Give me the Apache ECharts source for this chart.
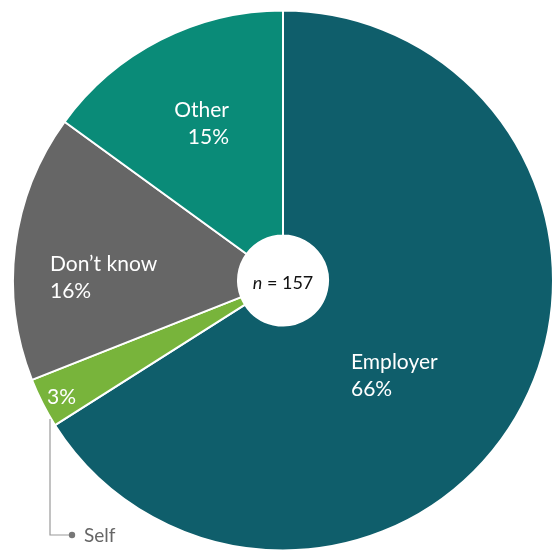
<!DOCTYPE html>
<html>
<head>
<meta charset="utf-8">
<script src="https://cdn.jsdelivr.net/npm/echarts@6/dist/echarts.min.js"></script>
<style>
  html, body { margin: 0; padding: 0; background: #fff; }
  #chart { width: 552px; height: 553px; }
</style>
</head>
<body>
<div id="chart"></div>
<script>
// Who pays: share of respondents by source
const categories = ['Employer', 'Self', 'Don\u2019t know', 'Other'];
const shares = [66, 3, 16, 15];
const colors = ['#0f5e6b', '#78b43b', '#666666', '#0a8b78'];
const sampleSize = 157;

// label anchor per slice: [x, y, align]
const labelSpots = [
  [351, 376, 'left'],
  [47, 397, 'left'],
  [50, 278, 'left'],
  [229, 124, 'right']
];

const FONT = 'Lato, "Open Sans", sans-serif';

const chart = echarts.init(document.getElementById('chart'), null, { renderer: 'canvas' });

chart.setOption({
  animation: false,
  backgroundColor: '#ffffff',
  series: [{
    type: 'pie',
    center: [283, 280.5],
    radius: [45, 270],
    startAngle: 90,
    clockwise: true,
    silent: true,
    itemStyle: { borderColor: '#ffffff', borderWidth: 2 },
    label: {
      show: true,
      position: 'inside',
      color: '#ffffff',
      fontFamily: FONT,
      fontSize: 21,
      lineHeight: 27,
      formatter: p => p.dataIndex === 1 ? p.value + '%' : p.name + '\n' + p.value + '%'
    },
    labelLine: { show: false },
    labelLayout: params => {
      const s = labelSpots[params.dataIndex];
      return { x: s[0], y: s[1], align: s[2], verticalAlign: 'middle' };
    },
    data: categories.map((c, i) => ({
      name: c,
      value: shares[i],
      itemStyle: { color: colors[i] }
    }))
  }],
  graphic: [
    {
      type: 'text',
      style: {
        x: 283, y: 283,
        text: '{i|n} = ' + sampleSize,
        align: 'center',
        verticalAlign: 'middle',
        fill: '#111',
        font: '18px ' + FONT,
        rich: { i: { fontStyle: 'italic', fontSize: 18, fontFamily: FONT, fill: '#111' } }
      },
      z: 100
    },
    {
      type: 'polyline',
      shape: { points: [[50, 419], [50, 535], [72, 535]] },
      style: { stroke: '#9a9a9a', lineWidth: 1.2, fill: null },
      z: 100
    },
    {
      type: 'circle',
      shape: { cx: 72, cy: 535, r: 3.2 },
      style: { fill: '#777777' },
      z: 100
    },
    {
      type: 'text',
      style: {
        x: 84, y: 536,
        text: 'Self',
        verticalAlign: 'middle',
        fill: '#666666',
        font: '19px ' + FONT
      },
      z: 100
    }
  ]
});
</script>
</body>
</html>
